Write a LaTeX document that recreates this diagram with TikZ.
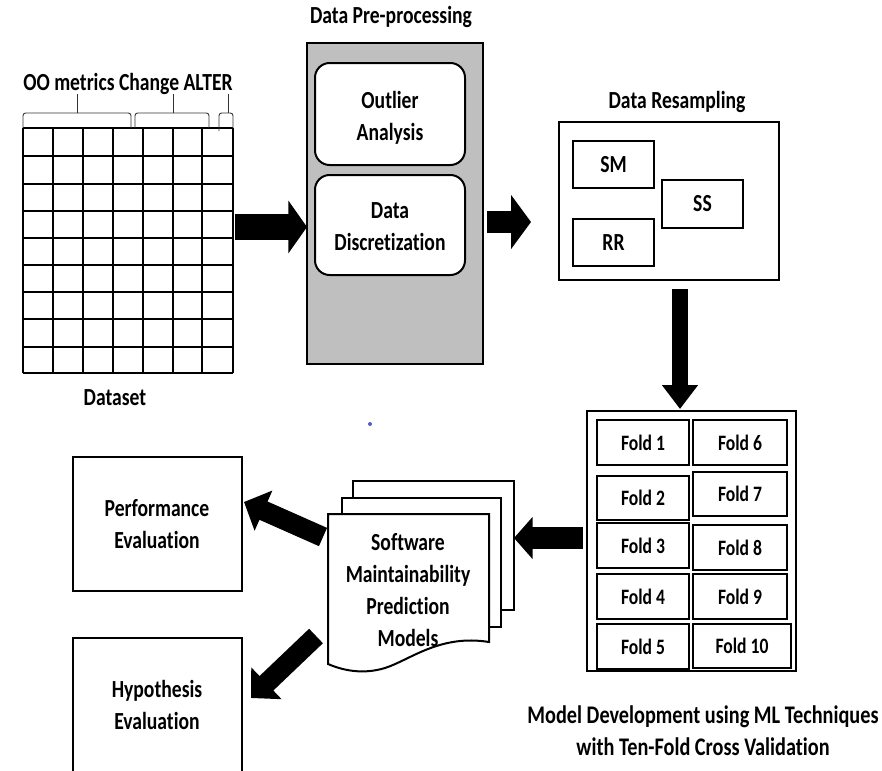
\documentclass[tikz,border=0pt]{standalone}
\usepackage{fontspec}
\setmainfont{Carlito}[FakeStretch=0.8, Ligatures=NoCommon]
\usetikzlibrary{arrows.meta}
\definecolor{boxgray}{HTML}{BFBFBF}
\definecolor{dotblue}{HTML}{5A5AC8}
\tikzset{
  txt/.style={font=\fontsize{18.4}{24}\selectfont\bfseries, align=center, inner sep=0pt},
  captxt/.style={font=\fontsize{19}{24}\selectfont\bfseries, align=center, inner sep=0pt},
  foldtxt/.style={font=\fontsize{16.5}{18}\selectfont\bfseries, inner sep=0pt},
  plainbox/.style={draw, line width=1.5pt, fill=white},
  cell/.style={draw, line width=1.4pt},
  gridline/.style={line width=1.6pt},
  bracket/.style={line width=0.7pt, rounded corners=2pt, draw=black!80},
  bigarrow/.style={draw=black, line cap=butt},
}
\begin{document}
\begin{tikzpicture}[x=0.75pt, y=-0.75pt]
\useasboundingbox (0,0) rectangle (882,771);
\clip (0,0) rectangle (882,771);

% ---------------- Dataset grid ----------------
\foreach \xx in {23,53,83,113,143,173,202,233}
  \draw[gridline] (\xx,128) -- (\xx,373);
\foreach \yy in {128,156,184,211,238,265,292,319,347,373}
  \draw[gridline] (23,\yy) -- (233,\yy);
\node[inner sep=0pt, minimum width=210*0.75pt, minimum height=245*0.75pt] (grid) at (128,250.5) {};

% brackets
\draw[bracket] (23,128) -- (23,113) -- (131,113) -- (131,128);
\draw[bracket] (77,113) -- (77,94);
\draw[bracket] (135,128) -- (135,113) -- (209,113) -- (209,128);
\draw[bracket] (173,113) -- (173,94);
\draw[bracket] (219,131) -- (219,113) -- (233,113) -- (233,128);
\draw[bracket] (228,113) -- (228,94);

\node[txt] (oolabel) at (128,84) {OO metrics Change ALTER};
\node[txt] (dataset) at (115,398) {Dataset};

% ---------------- Data pre-processing ----------------
\node[txt] (pretitle) at (391,17) {Data Pre-processing};
\draw[line width=1.8pt, fill=boxgray] (307,43) rectangle (483,364);
\node[inner sep=0pt, minimum width=176*0.75pt, minimum height=321*0.75pt] (pre) at (395,203.5) {};
\draw[plainbox, rounded corners=11pt] (315,63) rectangle (465,165);
\node[txt] (outlier) at (390,118) {Outlier\\Analysis};
\draw[plainbox, rounded corners=11pt] (315,175) rectangle (465,275);
\node[txt] (discr) at (390,227) {Data\\Discretization};

% ---------------- Data resampling ----------------
\node[txt] (restitle) at (677,102) {Data Resampling};
\draw[plainbox] (559,122) rectangle (779,280);
\node[inner sep=0pt, minimum width=220*0.75pt, minimum height=158*0.75pt] (res) at (669,201) {};
\draw[cell] (573,141) rectangle (654,188);
\node[txt] (sm) at (613.5,164.5) {SM};
\draw[cell] (573,219) rectangle (654,266);
\node[txt] (rr) at (613.5,242.5) {RR};
\draw[cell] (662,180) rectangle (743,228);
\node[txt] (ss) at (702.5,204) {SS};

% ---------------- Folds ----------------
\draw[plainbox] (587,411) rectangle (796,671);
\node[inner sep=0pt, minimum width=209*0.75pt, minimum height=260*0.75pt] (folds) at (691.5,541) {};
\draw[cell] (597,420) rectangle (689,465); \node[foldtxt] (f1) at (643,442.5) {Fold 1};
\draw[cell] (597,476) rectangle (689,520); \node[foldtxt] (f2) at (643,498) {Fold 2};
\draw[cell] (597,523) rectangle (689,568); \node[foldtxt] (f3) at (643,545.5) {Fold 3};
\draw[cell] (597,574) rectangle (689,619); \node[foldtxt] (f4) at (643,596.5) {Fold 4};
\draw[cell] (597,624) rectangle (689,669); \node[foldtxt] (f5) at (643,646.5) {Fold 5};
\draw[cell] (693,420) rectangle (787,465); \node[foldtxt] (f6) at (740,442.5) {Fold 6};
\draw[cell] (693,472) rectangle (787,516); \node[foldtxt] (f7) at (740,494) {Fold 7};
\draw[cell] (693,525) rectangle (787,570); \node[foldtxt] (f8) at (740,547.5) {Fold 8};
\draw[cell] (693,574) rectangle (787,619); \node[foldtxt] (f9) at (740,596.5) {Fold 9};
\draw[cell] (693,624) rectangle (791,668); \node[foldtxt] (f10) at (742,646) {Fold 10};

\node[captxt] (caption) at (703,731) {Model Development using ML Techniques\\with Ten-Fold Cross Validation};

% ---------------- Models (stacked documents) ----------------
\draw[plainbox] (353,481) rectangle (514,610);
\draw[plainbox] (342,498) rectangle (501,627);
\draw[plainbox] (328,514) -- (489,514) -- (489,642)
  .. controls (440,634) and (410,660) .. (385,668)
  .. controls (362,675) and (342,670) .. (328,664) -- cycle;
\node[txt] (models) at (408,590) {Software\\Maintainability\\Prediction\\Models};

% ---------------- Evaluation boxes ----------------
\draw[plainbox] (73,457) rectangle (242,591);
\node[txt] (perf) at (157,524) {Performance\\Evaluation};
\draw[plainbox] (73,638) rectangle (242,790);
\node[txt] (hyp) at (157,705) {Hypothesis\\Evaluation};

% blue dot
\fill[dotblue] (370,424) circle (1.5pt);

% ---------------- Arrows ----------------
\coordinate (a1s) at (235,227);
\coordinate (a1e) at (307,227);
\draw[bigarrow, line width=20pt, -{Triangle[length=14pt,width=39pt]}] (a1s) -- (a1e);

\coordinate (a2s) at (487,222);
\coordinate (a2e) at (531,222);
\draw[bigarrow, line width=17pt, -{Triangle[length=15pt,width=40pt]}] (a2s) -- (a2e);

\coordinate (a3s) at (680,289);
\coordinate (a3e) at (680,409);
\draw[bigarrow, line width=12pt, -{Triangle[length=18pt,width=26pt]}] (a3s) -- (a3e);

\coordinate (a4s) at (583,538);
\coordinate (a4e) at (514,538);
\draw[bigarrow, line width=16pt, -{Triangle[length=14pt,width=31pt]}] (a4s) -- (a4e);

\coordinate (a5s) at (323,537);
\coordinate (a5e) at (244,502);
\draw[bigarrow, line width=15pt, -{Triangle[length=16pt,width=32pt]}] (a5s) -- (a5e);

\coordinate (a6s) at (316,636);
\coordinate (a6e) at (251,698);
\draw[bigarrow, line width=15pt, -{Triangle[length=16pt,width=32pt]}] (a6s) -- (a6e);
\end{tikzpicture}
\end{document}
